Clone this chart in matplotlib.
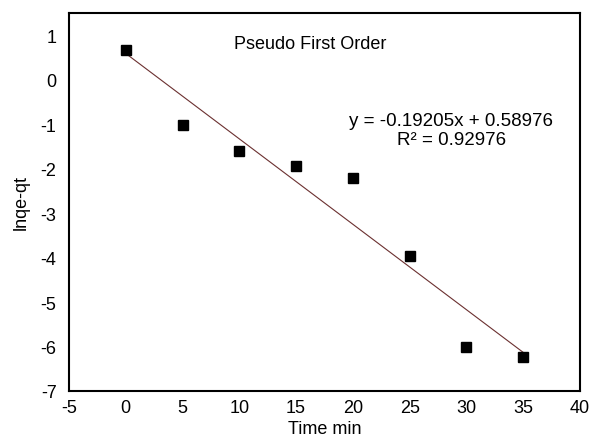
import numpy as np
import matplotlib
matplotlib.use("Agg")
import matplotlib.pyplot as plt

plt.rcParams["font.family"] = ["Liberation Sans", "DejaVu Sans"]
plt.rcParams["axes.unicode_minus"] = False

# pseudo first order kinetics: ln(qe - qt) against time
TIME = [0, 5, 10, 15, 20, 25, 30, 35]
LNQ = [0.66, -1.02, -1.61, -1.94, -2.21, -3.97, -6.01, -6.24]
SLOPE = -0.19205
INTERCEPT = 0.58976
R2 = 0.92976

fig = plt.figure(figsize=(5.92, 4.39), dpi=100)
ax = fig.add_axes([69 / 592, 1 - 392 / 439, (580 - 69) / 592, (392 - 14) / 439])

xfit = np.array([TIME[0], TIME[-1]])
ax.plot(xfit, SLOPE * xfit + INTERCEPT, color="#6b3030", lw=0.8, zorder=2)
ax.plot(TIME, LNQ, "s", color="black", ms=7, zorder=3)

ax.set_xlim(-5, 40)
ax.set_ylim(-7, 1.5)
ax.set_xticks(range(-5, 41, 5))
ax.set_yticks(range(-7, 2))
ax.tick_params(axis="x", length=0, labelsize=13, pad=6)
ax.tick_params(axis="y", length=0, labelsize=13, pad=9)
for s in ax.spines.values():
    s.set_linewidth(1.5)

ax.set_xlabel("Time min", fontsize=13, labelpad=3)
ax.set_ylabel("lnqe-qt", fontsize=13, labelpad=8)

ax.text(0.472, 0.918, "Pseudo First Order", transform=ax.transAxes, fontsize=13,
        ha="center", va="center")
ax.text(0.748, 0.69, f"y = {SLOPE}x + {INTERCEPT}\nR² = {R2}",
        transform=ax.transAxes, fontsize=13.5, ha="center", va="center",
        linespacing=1.15)

fig.savefig("out.png", dpi=100)
